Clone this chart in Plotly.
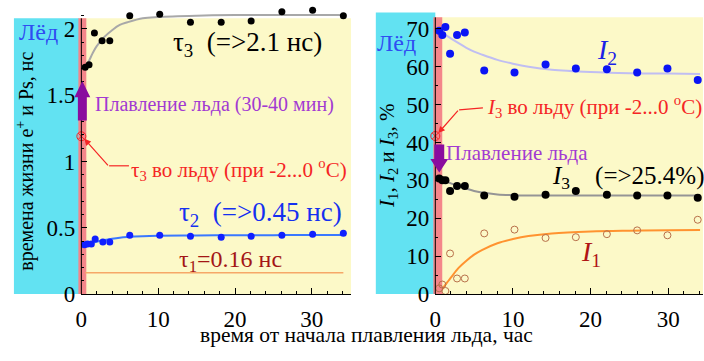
import plotly.graph_objects as go

# ---------------- data ----------------
# left panel: lifetimes, ns
t_tau2 = [0.4, 0.8, 1.3, 1.8, 2.8, 3.7, 6.3, 10.2, 14.2, 18.2, 22.1, 26.1, 30.1, 34.1]
tau2 = [0.371, 0.378, 0.378, 0.415, 0.393, 0.393, 0.444, 0.444, 0.436, 0.429, 0.436, 0.444, 0.451, 0.458]
t_tau3 = [0.5, 1.0, 1.7, 2.7, 3.7, 6.3, 10.2, 14.2, 18.2, 22.1, 26.1, 30.1, 34.1]
tau3 = [1.71, 1.73, 1.97, 1.91, 1.91, 2.10, 2.11, 2.05, 2.05, 2.06, 2.13, 2.14, 2.10]
t_fit3 = [0.5, 1, 1.5, 2, 3, 4, 5, 6, 8, 10, 15, 20, 25, 30, 34.1]
tau3_fit = [1.71, 1.76, 1.82, 1.87, 1.94, 1.99, 2.03, 2.05, 2.08, 2.09, 2.10, 2.105, 2.105, 2.105, 2.105]
t_fit2 = [0.5, 1, 2, 3, 4, 5, 6, 8, 10, 15, 20, 25, 30, 34.1]
tau2_fit = [0.37, 0.378, 0.395, 0.407, 0.417, 0.425, 0.43, 0.436, 0.439, 0.442, 0.443, 0.444, 0.445, 0.445]
t_tau1 = [0.5, 34.1]
tau1 = [0.16, 0.16]
tau3_ice = 1.19

# right panel: intensities, %
t_I = [0.5, 0.9, 1.3, 1.9, 2.8, 3.8, 6.3, 10.2, 14.2, 18.1, 22.1, 26.0, 29.9, 33.8]
I2 = [69.5, 68.4, 70.5, 63.4, 68.4, 69.0, 59.0, 58.5, 60.6, 59.5, 59.3, 58.5, 59.5, 56.5]
I3 = [30.5, 30.0, 30.0, 27.2, 28.5, 28.5, 26.0, 25.7, 26.2, 27.2, 26.2, 26.0, 26.0, 25.4]
I1 = [1.5, 2.5, 0.8, 10.7, 4.1, 4.1, 16.0, 17.0, 14.8, 15.0, 15.8, 16.8, 15.5, 19.6]
t_fitI = [0.5, 1, 2, 3, 4, 5, 6, 8, 10, 12, 15, 20, 25, 30, 34.1]
I2_fit = [69.5, 68.8, 67.5, 66.2, 65.0, 64.0, 63.2, 61.8, 60.8, 60.0, 59.2, 58.6, 58.3, 58.2, 58.1]
I3_fit = [30.6, 30.1, 29.2, 28.5, 27.8, 27.2, 26.8, 26.3, 26.1, 26.0, 26.0, 26.0, 26.0, 26.0, 26.0]
t_fitI1 = [0.9, 1.5, 2, 3, 4, 5, 6, 8, 10, 12, 15, 20, 25, 30, 34.1]
I1_fit = [1.3, 3.0, 4.3, 6.9, 8.8, 10.4, 11.6, 13.4, 14.5, 15.3, 16.0, 16.5, 16.7, 16.8, 16.9]
I3_ice = 41.7

x_ticks = [0, 10, 20, 30]

# ---------------- layout helpers ----------------
W, H = 704, 361
def px(x):
    return x / W
def py(y):
    return 1 - y / H

SERIF = "Times New Roman, Liberation Serif, DejaVu Serif, serif"
CYAN = "#62e2f2"
YELLOW = "#fcf9c8"
PINK = "#f4868a"
PURPLE_ARROW = "#8a0c9e"
PURPLE_TEXT = "#a23ad2"
RED = "#f52525"

fig = go.Figure()

# left panel traces
fig.add_trace(go.Scatter(x=t_tau1, y=tau1, mode="lines", line=dict(color="#f6a868", width=1.5),
                         xaxis="x", yaxis="y", hoverinfo="skip"))
fig.add_trace(go.Scatter(x=t_fit3, y=tau3_fit, mode="lines", line=dict(color="#a8a8a8", width=2, shape="spline"),
                         xaxis="x", yaxis="y"))
fig.add_trace(go.Scatter(x=t_fit2, y=tau2_fit, mode="lines", line=dict(color="#3a78ff", width=2, shape="spline"),
                         xaxis="x", yaxis="y"))
fig.add_trace(go.Scatter(x=t_tau3, y=tau3, mode="markers", marker=dict(color="black", size=7),
                         xaxis="x", yaxis="y", cliponaxis=False))
fig.add_trace(go.Scatter(x=t_tau2, y=tau2, mode="markers", marker=dict(color="#1020ff", size=7),
                         xaxis="x", yaxis="y", cliponaxis=False))
fig.add_trace(go.Scatter(x=[0], y=[tau3_ice], mode="markers",
                         marker=dict(symbol="circle-x-open", color=RED, size=9, line=dict(width=1)),
                         xaxis="x", yaxis="y", cliponaxis=False))

# right panel traces
fig.add_trace(go.Scatter(x=t_fitI, y=I2_fit, mode="lines", line=dict(color="#c0bef2", width=2, shape="spline"),
                         xaxis="x2", yaxis="y2"))
fig.add_trace(go.Scatter(x=t_fitI, y=I3_fit, mode="lines", line=dict(color="#959595", width=2, shape="spline"),
                         xaxis="x2", yaxis="y2"))
fig.add_trace(go.Scatter(x=t_fitI1, y=I1_fit, mode="lines", line=dict(color="#ff9330", width=2, shape="spline"),
                         xaxis="x2", yaxis="y2"))
fig.add_trace(go.Scatter(x=t_I, y=I2, mode="markers", marker=dict(color="#0a14f5", size=8),
                         xaxis="x2", yaxis="y2", cliponaxis=False))
fig.add_trace(go.Scatter(x=t_I, y=I3, mode="markers", marker=dict(color="black", size=8),
                         xaxis="x2", yaxis="y2", cliponaxis=False))
fig.add_trace(go.Scatter(x=t_I, y=I1, mode="markers",
                         marker=dict(symbol="circle-open", color="#b8704a", size=7, line=dict(width=1)),
                         xaxis="x2", yaxis="y2", cliponaxis=False))
fig.add_trace(go.Scatter(x=[0], y=[I3_ice], mode="markers",
                         marker=dict(symbol="circle-x-open", color=RED, size=9, line=dict(width=1)),
                         xaxis="x2", yaxis="y2", cliponaxis=False))

# ---------------- backgrounds ----------------
shapes = []
def rect(x0, y0, x1, y1, color, layer="below"):
    shapes.append(dict(type="rect", xref="paper", yref="paper", x0=px(x0), x1=px(x1),
                       y0=py(y1), y1=py(y0), fillcolor=color, line=dict(width=0), layer=layer))
def seg(x0, y0, x1, y1, color="black", width=1, layer="above"):
    shapes.append(dict(type="line", xref="paper", yref="paper", x0=px(x0), x1=px(x1),
                       y0=py(y0), y1=py(y1), line=dict(color=color, width=width), layer=layer))
def poly(pts, color):
    path = "M " + " L ".join(f"{px(a):.5f},{py(b):.5f}" for a, b in pts) + " Z"
    shapes.append(dict(type="path", xref="paper", yref="paper", path=path,
                       fillcolor=color, line=dict(width=0), layer="above"))

# left
rect(8, 19, 74, 305, CYAN)
rect(74, 19, 348, 305, YELLOW)
rect(73, 19, 81, 305, PINK)
seg(76, 19, 76, 305)
# right
rect(373, 13, 433, 305, CYAN)
rect(433, 18, 703, 305, YELLOW)
rect(431, 18, 440, 305, PINK)
seg(433, 18, 433, 305)

# purple arrows
poly([(77, 84), (85, 101), (81.5, 101), (81.5, 125), (72.5, 125), (72.5, 101), (69, 101)], PURPLE_ARROW)
poly([(437, 179), (446, 165), (442, 165), (442, 150), (432, 150), (432, 165), (428, 165)], PURPLE_ARROW)

# red pointer lines (horizontal parts)
seg(104, 172, 124, 172, RED, 1.2)
seg(457, 114, 481, 112, RED, 1.2)

# ---------------- texts ----------------
ann = []
def text(x, y, s, size, color="black", anchor="left", angle=0, yanchor="middle"):
    ann.append(dict(xref="paper", yref="paper", x=px(x), y=py(y), text=s, showarrow=False,
                    xanchor=anchor, yanchor=yanchor, textangle=angle, borderpad=0,
                    font=dict(family=SERIF, size=size, color=color)))
def arrow(tipx, tipy, tailx, taily, color):
    ann.append(dict(xref="paper", yref="paper", x=px(tipx), y=py(tipy), text="", showarrow=True,
                    ax=tailx - tipx, ay=taily - tipy, arrowhead=2, arrowsize=1.1, arrowwidth=1.2,
                    arrowcolor=color))

NB = "\u00a0"
text(33, 33, "Лёд", 24, "#2f4cf2", "center")
text(394, 45, "Лёд", 24, "#2f4cf2", "center")
text(167, 46, "τ<sub>3</sub>" + NB * 2 + "(=>2.1 нс)", 27)
text(89, 108, "Плавление льда (30-40 мин)", 20, PURPLE_TEXT)
text(125, 176, "τ<sub>3</sub> во льду (при -2...0 <sup>o</sup>C)", 21, RED)
text(173, 222, "τ<sub>2</sub>" + NB * 2 + "(=>0.45 нс)", 27, "#1530f0")
text(173, 271, "τ<sub>1</sub>=0.16 нс", 24, "#a31616")
arrow(79, 144, 104, 172, RED)

text(606, 53, "<i>I</i><sub>2</sub>", 28, "#1a22e6", "center")
text(484, 110, "<i>I</i><sub>3</sub> во льду (при -2...0 <sup>o</sup>C)", 21, RED)
text(443, 159, "Плавление льда", 21, PURPLE_TEXT)
text(550, 184, "<i>I</i><sub>3</sub>" + NB * 4 + "(=>25.4%)", 25)
text(590, 263, "<i>I</i><sub>1</sub>", 28, "#b01515", "center")
arrow(436, 138, 457, 114, RED)

text(20, 167, "времена жизни e<sup>+</sup> и Ps, нс", 20, "black", "center", -90)
text(385, 162, "<i>I</i><sub>1</sub>, <i>I</i><sub>2</sub> и <i>I</i><sub>3</sub>, %", 21, "black", "center", -90)
text(364, 361, "время от начала плавления льда, час", 21.5, "black", "center", 0, "bottom")

# ---------------- axes ----------------
tickfont = dict(family=SERIF, size=23, color="black")
common_x = dict(showgrid=False, zeroline=False, showline=True, linecolor="black", linewidth=1,
                ticks="inside", ticklen=6, tickcolor="black", tickvals=x_ticks, tickfont=tickfont,
                ticklabelstandoff=4,
                minor=dict(dtick=2, ticks="inside", ticklen=3, tickcolor="black"))
common_y = dict(showgrid=False, zeroline=False, showline=False,
                ticks="inside", ticklen=6, tickcolor="black", tickfont=tickfont, ticklabelstandoff=5)

fig.update_layout(
    width=W, height=H,
    margin=dict(l=0, r=0, t=0, b=0),
    paper_bgcolor="white", plot_bgcolor="rgba(0,0,0,0)",
    showlegend=False,
    font=dict(family=SERIF),
    xaxis=dict(domain=[px(76), px(348)], range=[0, 35.1], anchor="y", **common_x),
    yaxis=dict(domain=[py(305), py(8)], range=[0, 2.16], anchor="x", tickvals=[0, 0.5, 1, 1.5, 2],
               ticktext=["0", "0.5", "1", "1.5", "2"],
               minor=dict(dtick=0.1, ticks="inside", ticklen=3, tickcolor="black"), **common_y),
    xaxis2=dict(domain=[px(433), px(703)], range=[0, 34.48], anchor="y2", **common_x),
    yaxis2=dict(domain=[py(305), py(13)], range=[0, 74.3], anchor="x2", tickvals=[0, 10, 20, 30, 40, 50, 60, 70],
                minor=dict(dtick=5, ticks="inside", ticklen=3, tickcolor="black"), **common_y),
    shapes=shapes,
    annotations=ann,
)

fig.write_html("out.html")
